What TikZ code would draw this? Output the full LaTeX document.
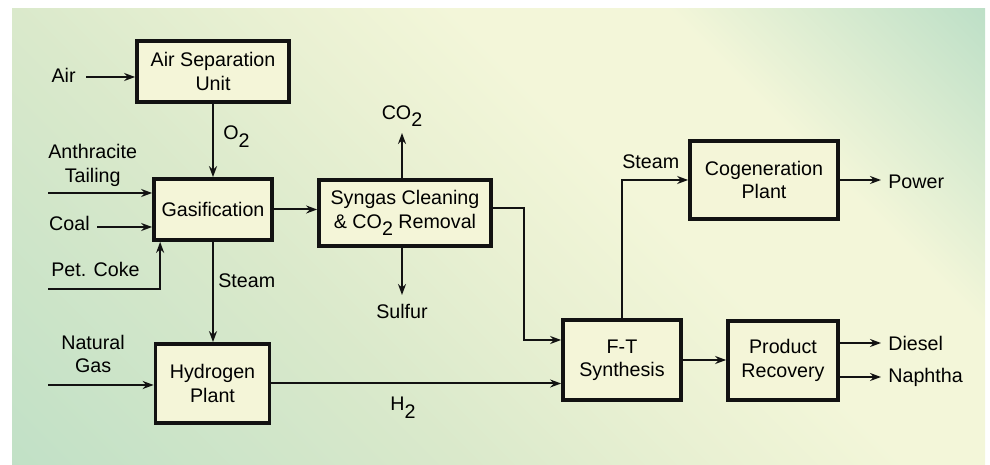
\documentclass[tikz,border=0pt]{standalone}
\usepackage{fontspec}
\setmainfont{Liberation Sans}
\usetikzlibrary{arrows.meta,positioning}
\definecolor{boxfill}{RGB}{244,245,216}
\definecolor{boxline}{RGB}{18,18,18}
\definecolor{mintA}{RGB}{192,224,198}
\definecolor{mintB}{RGB}{218,233,203}
\definecolor{paleC}{RGB}{234,241,211}
\definecolor{paleY}{RGB}{243,246,217}
\definecolor{mintD}{RGB}{186,222,198}
\pgfdeclarehorizontalshading{panelshade}{100bp}{color(0bp)=(mintA); color(26bp)=(mintA);
  color(41.5bp)=(mintB); color(50bp)=(paleC); color(56bp)=(paleY); color(63bp)=(paleY);
  color(74bp)=(mintD); color(100bp)=(mintD)}
\newcommand{\lowered}[1]{\raisebox{-4.3pt}{#1}}

\begin{document}
\begin{tikzpicture}[
  x=0.02cm,
  y=-0.02cm,
  font=\fontsize{11.2}{13.3}\selectfont,
  plant/.style={
    draw=boxline,
    line width=0.075cm,
    fill=boxfill,
    align=center,
    inner sep=0pt
  },
  lbl/.style={inner sep=0pt, align=center},
  flow/.style={
    -{Stealth[length=0.22cm,width=0.16cm]},
    line width=0.04cm,
    draw=boxline
  }
]
\useasboundingbox (0,0) rectangle (990,465);

% panel
\begin{scope}
  \clip (12,9) rectangle (985,465);
  \shade[shading=panelshade, transform canvas={rotate around={45:(498.5,237)}}]
    (-41.5,-303) rectangle (1038.5,777);
\end{scope}

\node[plant, minimum width=3.04cm, minimum height=1.22cm] (asu) at (213,71.5) {Air Separation\\Unit};
\node[plant, minimum width=2.36cm, minimum height=1.22cm] (gas) at (213,209.5) {Gasification};
\node[plant, minimum width=3.44cm, minimum height=1.32cm] (syn) at (405,213) {Syngas Cleaning\\\& CO\lowered{2} Removal};
\node[plant, minimum width=2.28cm, minimum height=1.58cm] (hyd) at (212.5,383.5) {Hydrogen\\Plant};
\node[plant, minimum width=2.36cm, minimum height=1.60cm] (ft) at (622,360) {F-T\\Synthesis};
\node[plant, minimum width=2.96cm, minimum height=1.56cm] (cog) at (764,180) {Cogeneration\\Plant};
\node[plant, minimum width=2.20cm, minimum height=1.58cm] (prod) at (783,360.5) {Product\\Recovery};

\coordinate (airin) at (86,77);
\coordinate (anthin) at (48,193);
\coordinate (coalin) at (97,227);
\coordinate (cokein) at (48,289);
\coordinate (ngin) at (48,385);
\coordinate (co2out) at (402,133);
\coordinate (sulfout) at (402,295);
\coordinate (powout) at (881,182);
\coordinate (dieselout) at (881,343);
\coordinate (naphout) at (881,377);

\node[lbl, left=0.2cm of airin, yshift=0.04cm] (air) {Air};
\node[lbl, above right=0.13cm and 0cm of anthin] (anth) {Anthracite\\Tailing};
\node[lbl, left=0.14cm of coalin, yshift=0.08cm] (coal) {Coal};
\node[lbl, above right=0.24cm and 0.06cm of cokein] (coke) {Pet. Coke};
\node[lbl, above right=0.23cm and 0.26cm of ngin] (ng) {Natural\\Gas};
\node[lbl, anchor=base west] (o2) at (223,140) {O\lowered{2}};
\node[lbl, anchor=base west] (steamlo) at (218,288) {Steam};
\node[lbl, above=0.12cm of co2out] (co2) {CO\lowered{2}};
\node[lbl, below=0.17cm of sulfout] (sulf) {Sulfur};
\node[lbl, anchor=base west] (h2) at (390,411) {H\lowered{2}};
\node[lbl, anchor=south west] (steamhi) at ([yshift=0.22cm]ft.north |- cog.west) {Steam};
\node[lbl, right=0.14cm of powout] (pow) {Power};
\node[lbl, right=0.14cm of dieselout] (diesel) {Diesel};
\node[lbl, right=0.14cm of naphout] (naph) {Naphtha};

\draw[flow] (airin) -- (airin -| asu.west);
\draw[flow] (asu) -- (gas);
\draw[flow] (anthin) -- (anthin -| gas.west);
\draw[flow] (coalin) -- (coalin -| gas.west);
\draw[flow] (cokein) -| ([xshift=0.16cm]gas.south west);
\draw[flow] (gas.south) -- (gas.south |- hyd.north);
\draw[flow] (ngin) -- (ngin -| hyd.west);
\draw[flow] (hyd.east) -- (hyd.east -| ft.west);
\draw[flow] (gas.east) -- (gas.east -| syn.west);
\draw[flow] (co2out |- syn.north) -- (co2out);
\draw[flow] (sulfout |- syn.south) -- (sulfout);
\draw[flow] ([shift={(0,-5)}]syn.east) -- ++(31,0) |- ([shift={(0,-20)}]ft.west);
\draw[flow] (ft.north) |- (cog.west);
\draw[flow] (cog.east) -- (cog.east -| powout);
\draw[flow] (ft.east) -- (ft.east -| prod.west);
\draw[flow] (dieselout -| prod.east) -- (dieselout);
\draw[flow] (naphout -| prod.east) -- (naphout);
\end{tikzpicture}
\end{document}
